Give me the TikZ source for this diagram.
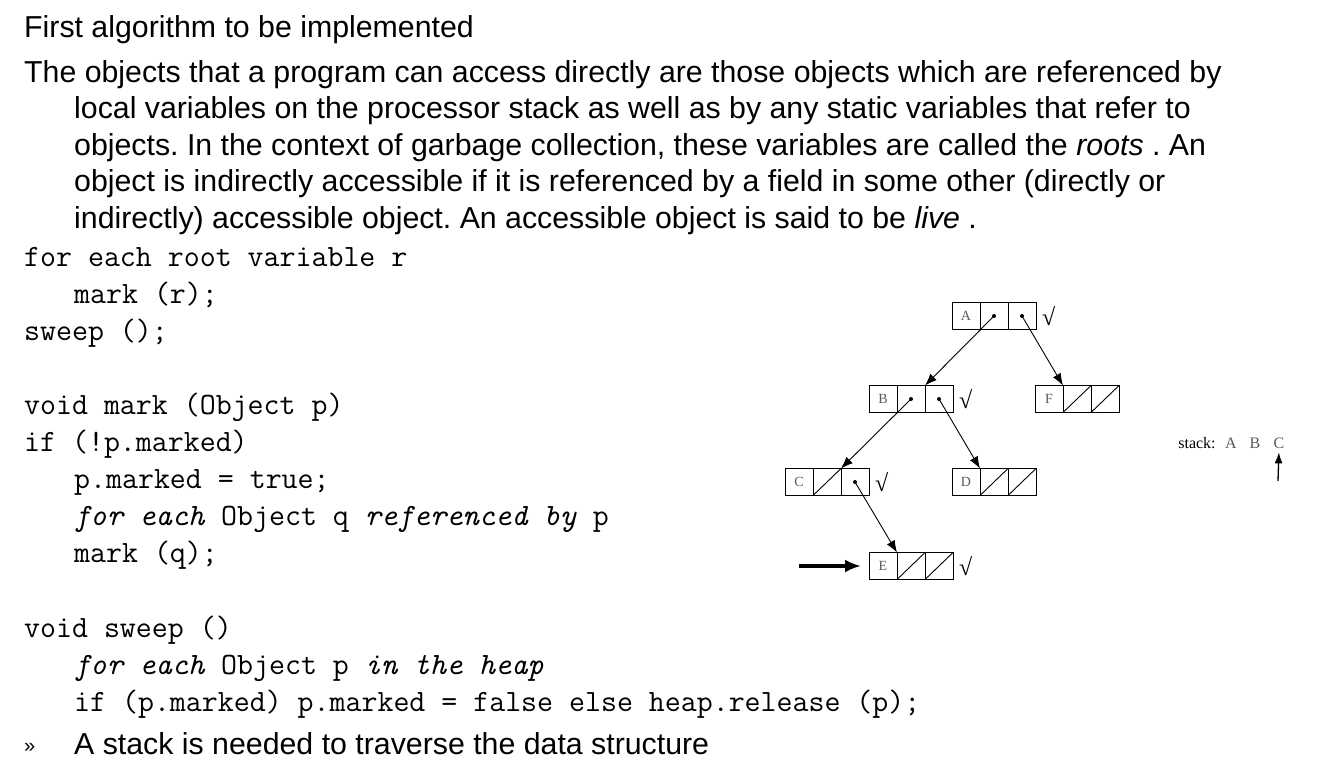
\documentclass[tikz,border=0pt]{standalone}
\usepackage{fontspec}
\setmainfont{Liberation Sans}
\newfontfamily\serifface{Liberation Serif}
\usepackage{tikz}
\usetikzlibrary{positioning,arrows.meta}
\frenchspacing
\tikzset{
    prose-line/.style = {anchor=base west, inner sep=0pt, font=\fontsize{30.3}{36}\selectfont},
    code-line/.style = {anchor=base west, inner sep=0pt, font=\ttfamily\fontsize{31}{36}\selectfont},
    obj-cell/.style = {draw, line width=0.9pt, rectangle, minimum width=28pt, minimum height=27pt, inner sep=0pt, outer sep=0pt, font=\serifface\fontsize{14}{14}\selectfont, text=black!65},
    tick-mark/.style = {inner sep=0pt, font=\serifface\fontsize{24}{24}\selectfont},
    stack-text/.style = {anchor=base, inner sep=0pt, font=\serifface\fontsize{16}{16}\selectfont},
    ref-arrow/.style = {-{Latex[length=12pt,width=9pt]}, line width=0.9pt},
}
% one heap object: three cells in a row, named #1-1, #1-2, #1-3
\newcommand{\heapobj}[3]{%
    \node[obj-cell] (#1-1) at #3 {#2};
    \node[obj-cell, right=0pt of #1-1] (#1-2) {};
    \node[obj-cell, right=0pt of #1-2] (#1-3) {};
}

\begin{document}
\begin{tikzpicture}[x=1pt, y=-1pt]
\useasboundingbox (0,0) rectangle (1325,776);

\node[prose-line] (title) at (24,38) {First algorithm to be implemented};
\node[prose-line] (para-1) at (24,82) {The objects that a program can access directly are those objects which are referenced by};
\node[prose-line] (para-2) at (74,118) {local variables on the processor stack as well as by any static variables that refer to};
\node[prose-line] (para-3) at (74,155) {objects. In the context of garbage collection, these variables are called the \textit{roots} . An};
\node[prose-line] (para-4) at (74,191) {object is indirectly accessible if it is referenced by a field in some other (directly or};
\node[prose-line] (para-5) at (74,228) {indirectly) accessible object. An accessible object is said to be \textit{live} .};

\node[code-line] (code-1) at (24,266) {for each root variable r};
\node[code-line] (code-2) at (74,303) {mark (r);};
\node[code-line] (code-3) at (24,340) {sweep ();};
\node[code-line] (code-4) at (24,414) {void mark (Object p)};
\node[code-line] (code-5) at (24,451) {if (!p.marked)};
\node[code-line] (code-6) at (74,488) {p.marked = true;};
\node[code-line] (code-7) at (74,525) {\textit{for each} Object q \textit{referenced by} p};
\node[code-line] (code-8) at (74,562) {mark (q);};
\node[code-line] (code-9) at (24,637) {void sweep ()};
\node[code-line] (code-10) at (74,674) {\textit{for each} Object p \textit{in the heap}};
\node[code-line] (code-11) at (74,711) {if (p.marked) p.marked = false else heap.release (p);};

\node[anchor=base west, inner sep=0pt, font=\fontsize{20}{20}\selectfont] (bullet) at (24,752) {»};
\node[prose-line] (note) at (74,754) {A stack is needed to traverse the data structure};

% heap objects
\heapobj{a}{A}{(966,316)}
\heapobj{b}{B}{(883,399)}
\heapobj{f}{F}{(1049,399)}
\heapobj{c}{C}{(799,482)}
\heapobj{d}{D}{(966,482)}
\heapobj{e}{E}{(883,566)}

% marked objects
\foreach \m in {a,b,c,e}
    \node[tick-mark, right=6pt of \m-3] (\m-tick) {√};

% references
\foreach \p in {a-2,a-3,b-2,b-3,c-3}
    \fill (\p.center) circle (2pt);
\draw[ref-arrow] (a-2.center) -- (b-3.north west);
\draw[ref-arrow] (a-3.center) -- (f-2.north west);
\draw[ref-arrow] (b-2.center) -- (c-3.north west);
\draw[ref-arrow] (b-3.center) -- (d-2.north west);
\draw[ref-arrow] (c-3.center) -- (e-2.north west);

% null fields
\foreach \n in {c-2,d-2,d-3,e-2,e-3,f-2,f-3}
    \draw[line width=0.9pt] (\n.south west) -- (\n.north east);

\coordinate (e-ptr) at (799,566);
\draw[-{Latex[length=16pt,width=13pt]}, line width=3.5pt, shorten >=8pt] (e-ptr) -- (e-1.west);

% stack
\node[stack-text] (stk) at (1197,448) {stack:};
\node[stack-text, text=black!65] (stk-a) at (1231,448) {A};
\node[stack-text, text=black!65] (stk-b) at (1255,448) {B};
\node[stack-text, text=black!65] (stk-c) at (1279,448) {C};
\coordinate (stk-ptr) at (1278,481);
\draw[-{Latex[length=11pt,width=8pt]}, line width=1.3pt, shorten >=4pt] (stk-ptr) -- (stk-c.south);
\end{tikzpicture}
\end{document}
